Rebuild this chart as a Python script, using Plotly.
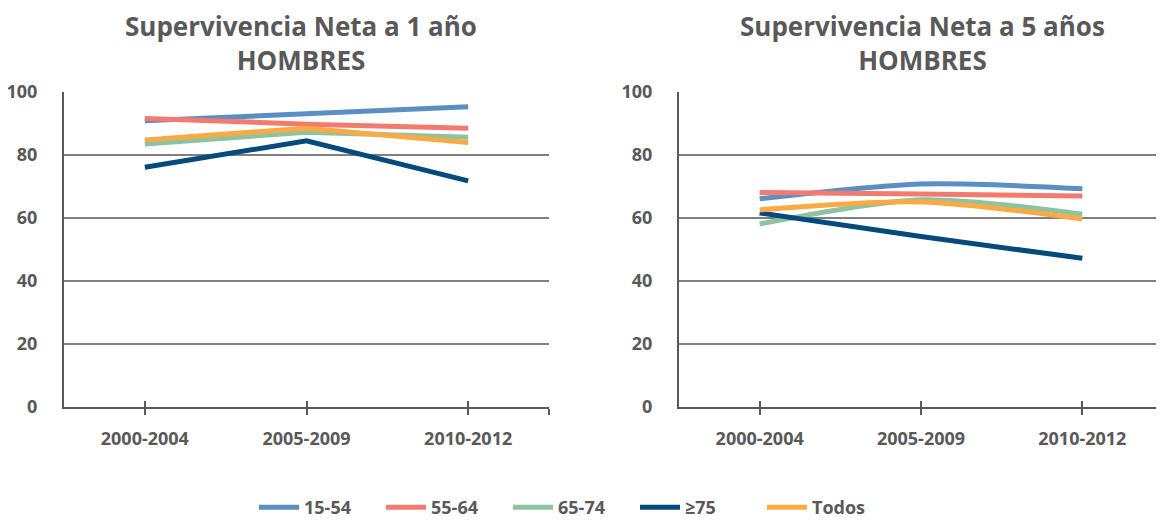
import plotly.graph_objects as go

periods = ["2000-2004", "2005-2009", "2010-2012"]
groups = ["15-54", "55-64", "65-74", "≥75", "Todos"]
colors = ["#5B8FC4", "#F27A6E", "#8EC3A2", "#044A7D", "#F9AA45"]

# Supervivencia neta a 1 año, hombres
surv_1y = {
    "15-54": [90.9, 93.2, 95.3],
    "55-64": [91.6, 89.8, 88.5],
    "65-74": [83.5, 87.2, 85.6],
    "≥75":   [76.1, 84.5, 71.8],
    "Todos": [84.8, 88.5, 84.0],
}
# Supervivencia neta a 5 años, hombres
surv_5y = {
    "15-54": [66.1, 70.8, 69.3],
    "55-64": [68.1, 67.6, 67.0],
    "65-74": [58.1, 65.8, 61.2],
    "≥75":   [61.6, 54.1, 47.2],
    "Todos": [62.6, 65.1, 59.7],
}
titles = ["Supervivencia Neta a 1 año<br>HOMBRES", "Supervivencia Neta a 5 años<br>HOMBRES"]
y_ticks = [0, 20, 40, 60, 80, 100]

GREY_TXT = "#595959"
FONT = "Open Sans"
W, H = 1156, 518   # page body has an 8px margin
xpos = list(range(len(periods)))

fig = go.Figure()
for i, g in enumerate(groups):
    fig.add_trace(go.Scatter(x=xpos, y=surv_1y[g], name=g, mode="lines",
                             line=dict(color=colors[i], width=5),
                             xaxis="x", yaxis="y", legendgroup=g))
    fig.add_trace(go.Scatter(x=xpos, y=surv_5y[g], name=g, mode="lines",
                             line=dict(color=colors[i], width=5, shape="spline", smoothing=0.8),
                             xaxis="x2", yaxis="y2", legendgroup=g, showlegend=False))

ydom = [(H - 399) / H, (H - 84) / H]
xdoms = [[56 / W, 541 / W], [671 / W, 1155 / W]]

def xaxis_cfg(dom, anchor):
    return dict(domain=dom, anchor=anchor, range=[-0.5, 2.5], automargin=False,
                tickvals=xpos + [2.5], ticktext=periods + [""],
                ticks="outside", ticklen=6, tickwidth=2, tickcolor=GREY_TXT,
                showline=True, linecolor=GREY_TXT, linewidth=2,
                showgrid=False, zeroline=False, ticklabelstandoff=8,
                tickfont=dict(family=FONT, size=18, color=GREY_TXT, weight="bold"))

def yaxis_cfg(anchor):
    return dict(domain=ydom, anchor=anchor, range=[0, 100], tickvals=y_ticks, automargin=False,
                showline=True, linecolor=GREY_TXT, linewidth=2,
                showgrid=True, gridcolor="#7F7F7F", gridwidth=1.5,
                zeroline=False, ticks="", ticklabelstandoff=21,
                tickfont=dict(family=FONT, size=18, color=GREY_TXT, weight="bold"))

def inner_ticks(dom, anchor, overlay):
    return dict(domain=dom, anchor=anchor, overlaying=overlay, range=[-0.5, 2.5], automargin=False,
                tickvals=xpos + [2.5], showticklabels=False,
                ticks="inside", ticklen=6, tickwidth=2, tickcolor=GREY_TXT,
                showline=False, showgrid=False, zeroline=False)

fig.update_layout(
    width=W, height=H,
    margin=dict(l=0, r=0, t=0, b=0, pad=0),
    paper_bgcolor="white", plot_bgcolor="white",
    xaxis=xaxis_cfg(xdoms[0], "y"),
    xaxis2=xaxis_cfg(xdoms[1], "y2"),
    xaxis3=inner_ticks(xdoms[0], "y", "x"),
    xaxis4=inner_ticks(xdoms[1], "y2", "x2"),
    yaxis=yaxis_cfg("x"),
    yaxis2=yaxis_cfg("x2"),
    showlegend=True,
    legend=dict(orientation="h", x=246 / W, xanchor="left",
                y=0, yanchor="bottom",
                font=dict(family=FONT, size=18, color=GREY_TXT, weight="bold"),
                entrywidth=72, entrywidthmode="pixels", itemwidth=40),
)
# dummy traces to activate overlay axes
for ax, yax in [("x3", "y"), ("x4", "y2")]:
    fig.add_trace(go.Scatter(x=[None], y=[None], xaxis=ax, yaxis=yax, showlegend=False, hoverinfo="skip"))

for t, cx in zip(titles, [293 / W, 914 / W]):
    fig.add_annotation(text=t, x=cx, y=1 + 2 / H, xref="paper", yref="paper",
                       xanchor="center", yanchor="top", showarrow=False, align="center",
                       font=dict(family=FONT, size=26, color=GREY_TXT, weight="bold"))

fig.write_html("out.html")
